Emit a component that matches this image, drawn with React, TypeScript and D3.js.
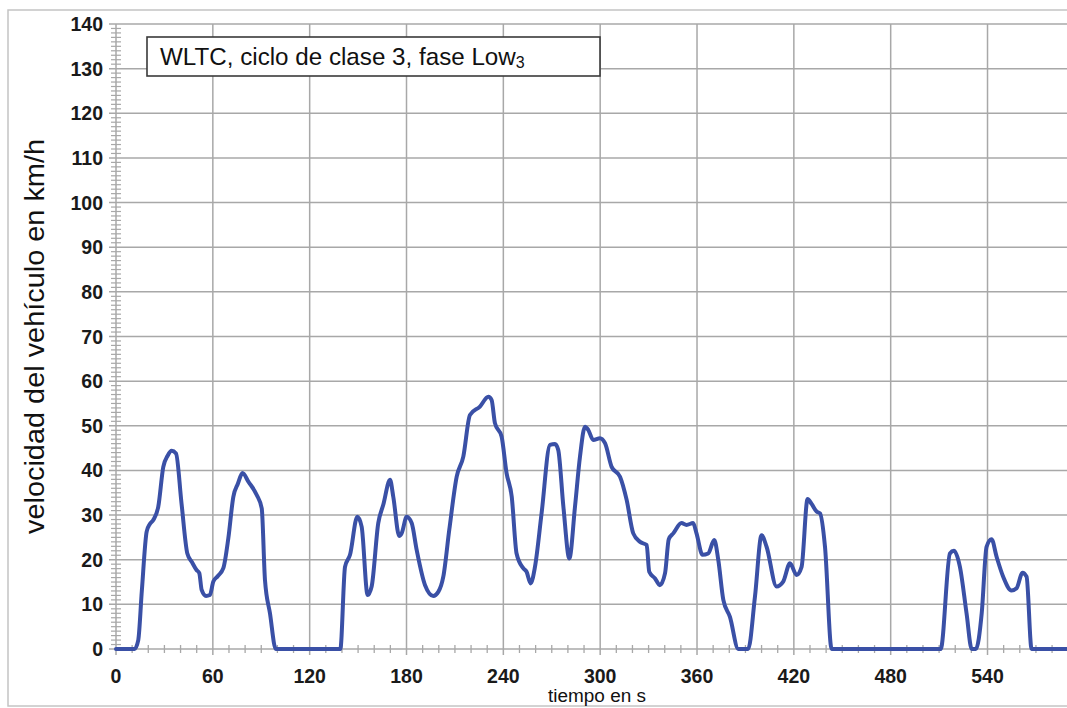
import React from "react";
import * as d3 from "d3";

const timeS: number[] = [
  0, 11.5, 13.8, 16, 19, 21, 23.1, 26.2, 29.3, 32, 34.5, 37.2, 40.6, 44.2, 47, 49.9, 51.6, 53.1, 55.8, 58.2,
  60.3, 63, 66.5, 69.6, 72.7, 75.5, 78.4, 82, 87.2, 90.3, 92.3, 95.4, 99,
  139, 141.9, 145, 149.5, 152.2, 155.9, 158.4, 162.5, 165.6, 169.8, 171.8, 175.5, 177, 180.1, 183.2, 186.3,
  191.5, 196.6, 199.7, 202.8, 206.5, 211.1, 215.2, 219.3, 225.5, 230.7, 232.7, 234.8, 238.9, 242, 245.2,
  248.2, 252.3, 254.4, 256.9, 259.6, 263.7, 268.9, 272, 274, 277.2, 280.9, 284.4, 287.5, 290.6, 292.6,
  295.7, 299.9, 303, 307.1, 312.3, 316.4, 320.5, 324.7, 328.8, 330.4, 334, 337, 340.2, 342.5, 345.3,
  350.4, 353.5, 357.6, 359.7, 363.4, 366.9, 370.7, 373.2, 376.3, 380.4, 385.6, 391.7, 395.9, 400, 403.1,
  409.3, 413.4, 417.6, 421.7, 424.8, 428.5, 431, 434.1, 436.2, 439.3, 443.4,
  511, 516.7, 519.2, 522.9, 527, 530.2, 532.8, 536.4, 539.4, 542.5, 545.6, 549.7, 554.9, 558, 561.7,
  564.2, 567.3, 589,
];

const speedKmh: number[] = [
  0, 0, 2, 13, 26.3, 28, 28.9, 31.9, 40.8, 43.3, 44.4, 43.8, 32.6, 21.4, 19.5, 17.7, 17.0, 13.2, 11.9, 12.1,
  15.1, 16.3, 18.1, 24.8, 34.1, 37, 39.4, 37.5, 34.5, 31.5, 15.5, 8, 0,
  0, 18.4, 21.1, 29.6, 27.4, 12.1, 14.0, 28.2, 32.3, 37.9, 34.1, 25.3, 25.9, 29.6, 28.2, 22.2,
  14.3, 11.9, 12.8, 16.2, 26.7, 38.6, 43.1, 52.4, 54.3, 56.5, 55.8, 50.6, 47.6, 39.4, 34.1,
  21.4, 18.1, 17.3, 14.7, 18.4, 30.4, 45.7, 45.9, 44.6, 31.9, 20.3, 31.9, 43.1, 49.8, 49.1,
  46.8, 47.2, 46.1, 40.8, 38.6, 33.4, 25.9, 24.0, 23.3, 17.3, 15.8, 14.3, 17.0, 24.6, 25.9,
  28.2, 27.8, 28.2, 25.9, 21.1, 21.4, 24.4, 19.9, 11.0, 7.2, 0, 0, 11.7, 25.5, 22.9,
  14.0, 15.1, 19.2, 16.6, 18.4, 33.6, 32.5, 30.8, 30.4, 22.9, 0,
  0, 21.4, 22.0, 18.4, 8, 0, 0, 8, 22.9, 24.6, 20.7, 16.2, 13.1, 13.6, 17.1,
  16.2, 0, 0,
];

const xTicks: number[] = [0, 60, 120, 180, 240, 300, 360, 420, 480, 540];
const yTicks: number[] = [0, 10, 20, 30, 40, 50, 60, 70, 80, 90, 100, 110, 120, 130, 140];

const titleMain = "WLTC, ciclo de clase 3, fase Low";
const titleSub = "3";
const xLabel = "tiempo en s";
const yLabel = "velocidad del vehículo en km/h";

const W = 1067;
const H = 708;
const FONT = "'Liberation Sans', Arial, Helvetica, sans-serif";

export default function App() {
  const x = d3.scaleLinear().domain([0, 589]).range([116, 1066.6]);
  const y = d3.scaleLinear().domain([0, 140]).range([649, 24]);

  const pts: [number, number][] = timeS.map((t, i) => [t, speedKmh[i]]);
  const line = d3
    .line<[number, number]>()
    .x((d) => x(d[0]))
    .y((d) => y(d[1]))
    .curve(d3.curveMonotoneX);

  const minorX = d3.range(0, 590, 10).filter((v) => v % 60 !== 0);
  const minorY = d3.range(0, 141, 1).filter((v) => v % 10 !== 0);
  const grid = "#a8a8a8";

  return (
    <svg
      width={W}
      height={H}
      style={{ position: "absolute", left: 0, top: 0, background: "#fff" }}
    >
      <rect x={0} y={0} width={W} height={H} fill="#fff" />
      {/* frame */}
      <rect x={8} y={10} width={W + 10} height={696} fill="none" stroke="#c4c4c4" strokeWidth={1.5} />

      {/* horizontal gridlines */}
      {yTicks.map((v) => (
        <line key={"hy" + v} x1={109} x2={W} y1={y(v)} y2={y(v)} stroke={grid} strokeWidth={1.5} />
      ))}
      {/* vertical gridlines */}
      {xTicks.map((v) => (
        <line key={"vx" + v} x1={x(v)} x2={x(v)} y1={y(140)} y2={655} stroke={grid} strokeWidth={1.5} />
      ))}
      {/* minor ticks */}
      {minorX.map((v) => (
        <line key={"mx" + v} x1={x(v)} x2={x(v)} y1={645} y2={653} stroke={grid} strokeWidth={1.3} />
      ))}
      {minorY.map((v) => (
        <line key={"my" + v} x1={111} x2={121} y1={y(v)} y2={y(v)} stroke={grid} strokeWidth={1.2} />
      ))}

      {/* y tick labels */}
      {yTicks.map((v) => (
        <text
          key={"ly" + v}
          x={103}
          y={y(v)}
          dy="0.36em"
          textAnchor="end"
          fontFamily={FONT}
          fontWeight="bold"
          fontSize={19.5}
          fill="#1a1a1a"
        >
          {v}
        </text>
      ))}
      {/* x tick labels */}
      {xTicks.map((v) => (
        <text
          key={"lx" + v}
          x={x(v)}
          y={683}
          textAnchor="middle"
          fontFamily={FONT}
          fontWeight="bold"
          fontSize={19.5}
          fill="#1a1a1a"
        >
          {v}
        </text>
      ))}

      {/* data line */}
      <path
        d={line(pts) || ""}
        fill="none"
        stroke="#3a50a6"
        strokeWidth={4}
        strokeLinejoin="round"
        strokeLinecap="round"
      />

      {/* title box */}
      <rect x={147} y={37} width={453} height={39} fill="#fff" stroke="#3a3a3a" strokeWidth={1.6} />
      <text x={160} y={65} fontFamily={FONT} fontSize={24.2} fill="#111">
        {titleMain}
        <tspan fontSize={16} dy={3}>
          {titleSub}
        </tspan>
      </text>

      {/* axis labels */}
      <text
        x={597}
        y={702}
        textAnchor="middle"
        fontFamily={FONT}
        fontSize={18}
        fill="#111"
        textLength={98}
        lengthAdjust="spacingAndGlyphs"
      >
        {xLabel}
      </text>
      <text
        transform={`translate(44, 336.5) rotate(-90)`}
        x={0}
        y={0}
        textAnchor="middle"
        fontFamily={FONT}
        fontSize={27}
        fill="#111"
        textLength={395}
        lengthAdjust="spacingAndGlyphs"
      >
        {yLabel}
      </text>
    </svg>
  );
}
